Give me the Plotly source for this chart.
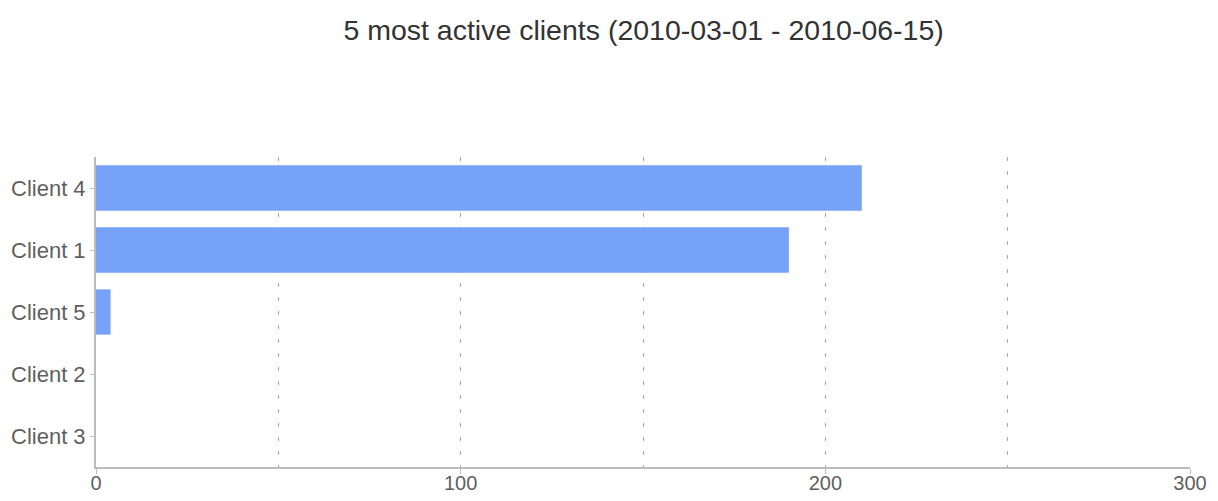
import plotly.graph_objects as go

# Activity counts per client for the reporting window
clients = ["Client 4", "Client 1", "Client 5", "Client 2", "Client 3"]
activity = [210, 190, 4, 0, 0]

x_tick_vals = [0, 100, 200, 300]
x_tick_text = ["0", "100", "200", "300"]

title_text = "5 most active clients (2010-03-01 - 2010-06-15)"

fig = go.Figure(
    go.Bar(
        x=activity,
        y=clients,
        orientation="h",
        marker=dict(color="#76a2f8", line=dict(width=0)),
        width=0.73,
    )
)

axis_gray = "#bdbdbd"
grid_gray = "#a8a8a8"
label_gray = "#5f5f5f"

fig.update_layout(
    width=1218,
    height=501,
    margin=dict(l=96, r=28, t=157, b=34),
    paper_bgcolor="white",
    plot_bgcolor="white",
    font=dict(family="Liberation Sans, Arial, sans-serif", size=22, color=label_gray),
    title=dict(
        text=title_text,
        x=0.5284,
        xanchor="center",
        y=0.94,
        yanchor="middle",
        font=dict(size=28.5, color="#333333"),
    ),
    showlegend=False,
)

fig.update_xaxes(
    range=[0, 300],
    tickvals=x_tick_vals,
    ticktext=x_tick_text,
    ticks="outside",
    ticklen=5,
    tickcolor=axis_gray,
    showline=True,
    linecolor=axis_gray,
    linewidth=2,
    showgrid=True,
    gridcolor=grid_gray,
    griddash="4px,10px",
    gridwidth=1,
    minor=dict(dtick=50, showgrid=True, gridcolor=grid_gray, griddash="4px,10px", gridwidth=1, ticks=""),
    zeroline=False,
    automargin=False,
    ticklabelstandoff=-8,
    tickfont=dict(size=20, color=label_gray),
)

fig.update_yaxes(
    categoryorder="array",
    categoryarray=clients,
    autorange="reversed",
    ticks="outside",
    ticklen=4,
    tickcolor=axis_gray,
    showline=True,
    linecolor=axis_gray,
    linewidth=2,
    showgrid=False,
    zeroline=False,
    automargin=False,
    tickfont=dict(size=22, color=label_gray),
)

fig.write_html("out.html")
